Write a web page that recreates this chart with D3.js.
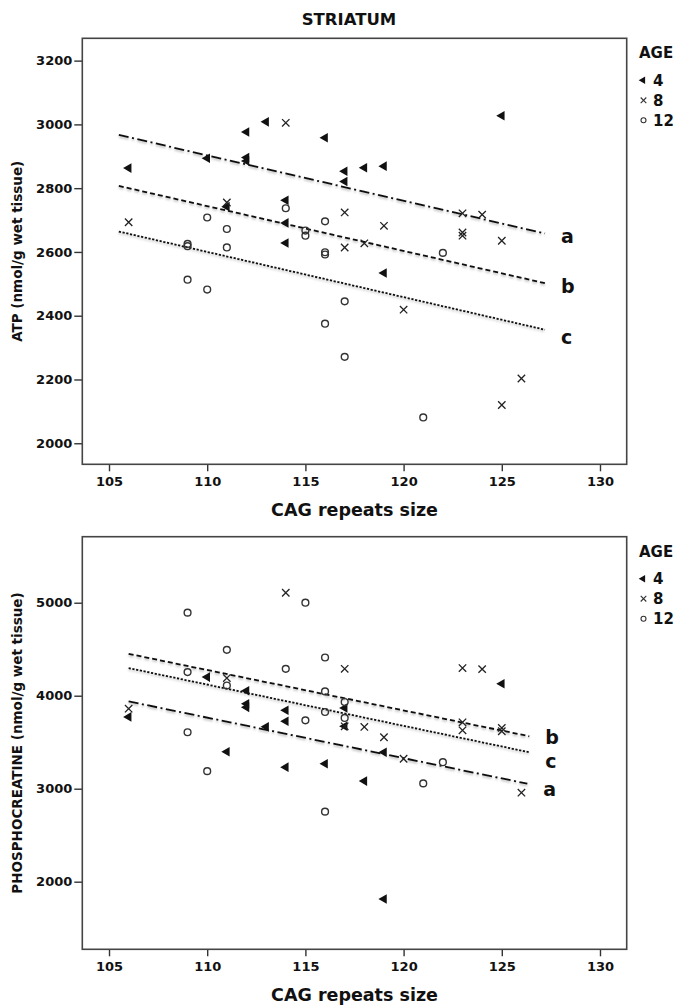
<!DOCTYPE html>
<html>
<head>
<meta charset="utf-8">
<script src="https://cdn.jsdelivr.net/npm/d3@7"></script>
<style>
  body { margin: 0; background: #fff; }
  svg { display: block; }
  text { font-family: "DejaVu Sans", sans-serif; font-weight: bold; fill: #111; }
</style>
</head>
<body>
<svg id="chart" width="679" height="1005"></svg>
<script>
// ---- data ----
var xTicks = [105, 110, 115, 120, 125, 130];
var atpTicks = [2000, 2200, 2400, 2600, 2800, 3000, 3200];
var pcrTicks = [2000, 3000, 4000, 5000];
var ages = ["4", "8", "12"];

// ATP, [CAG repeats, nmol/g]
var atpAge4 = [[106,2863],[110,2894],[111,2742],[112,2976],[112,2896],[112,2885],[113,3008],[114,2762],[114,2691],[114,2628],
  [116,2958],[117,2853],[117,2821],[118,2864],[119,2869],[119,2534],[125,3027]];
var atpAge8 = [[106,2693],[111,2755],[114,3005],[117,2724],[117,2614],[118,2627],[119,2682],[120,2419],[123,2721],[123,2661],
  [123,2651],[124,2717],[125,2635],[125,2120],[126,2203]];
var atpAge12 = [[109,2625],[109,2618],[109,2513],[110,2708],[110,2482],[111,2672],[111,2614],[114,2737],[115,2667],[115,2651],
  [116,2696],[116,2599],[116,2592],[116,2375],[117,2445],[117,2271],[121,2081],[122,2597]];

// phosphocreatine
var pcrAge4 = [[106,3772],[110,4200],[111,3397],[112,4054],[112,3914],[112,3875],[113,3665],[114,3843],[114,3725],[114,3232],
  [116,3268],[117,3868],[117,3671],[118,3082],[119,3392],[119,1814],[125,4129]];
var pcrAge8 = [[106,3861],[111,4190],[114,5107],[117,4289],[117,3671],[118,3664],[119,3553],[120,3322],[123,4297],[123,3714],
  [123,3628],[124,4286],[125,3654],[125,3618],[126,2957]];
var pcrAge12 = [[109,4893],[109,4254],[109,3607],[110,3189],[111,4493],[111,4110],[114,4289],[115,5000],[115,3735],[116,4411],
  [116,4046],[116,3825],[116,2753],[117,3932],[117,3761],[121,3057],[122,3285]];

// fit lines: [label, x0, y0, x1, y1]
var atpFits = [["a",105.5,2967,127.2,2658],["b",105.5,2807,127.2,2502],["c",105.5,2664,127.2,2356]];
var pcrFits = [["b",106,4450,126.4,3564],["c",106,4297,126.4,3392],["a",106,3939,126.3,3054]];

var dashes = { a: "10,3.5,2,3.5", b: "5,3", c: "2.2,1.6" };

var svg = d3.select("#chart");

var defs = svg.append("defs");
defs.append("filter").attr("id", "shade")
  .attr("x", "-5%").attr("y", "-50%").attr("width", "110%").attr("height", "200%")
  .append("feDropShadow")
  .attr("dx", 0).attr("dy", 1.5).attr("stdDeviation", 1.2)
  .attr("flood-color", "#000").attr("flood-opacity", 0.3);

svg.append("text")
  .attr("x", 349).attr("y", 25)
  .attr("text-anchor", "middle")
  .attr("font-size", "16.5px")
  .text("STRIATUM");

function drawPanel(opt) {
  var left = 82.3, right = 626.7;
  var x = d3.scaleLinear().domain([103.64, 131.36]).range([left, right]);
  var y = d3.scaleLinear().domain(opt.domain).range([opt.bottom, opt.top]);

  var g = svg.append("g");

  // y axis
  var ya = g.append("g")
    .attr("transform", "translate(" + left + ",0)")
    .call(d3.axisLeft(y).tickValues(opt.ticks).tickSize(8).tickPadding(2).tickFormat(d3.format("d")));
  ya.select(".domain").remove();
  ya.selectAll("line").attr("stroke", "#333").attr("stroke-width", 1.4);
  ya.selectAll("text").attr("font-family", "DejaVu Sans").attr("font-size", "13px").attr("fill", "#111");

  // x axis
  var xa = g.append("g")
    .attr("transform", "translate(0," + opt.bottom + ")")
    .call(d3.axisBottom(x).tickValues(xTicks).tickSize(7).tickPadding(5));
  xa.select(".domain").remove();
  xa.selectAll("line").attr("stroke", "#333").attr("stroke-width", 1.4);
  xa.selectAll("text").attr("font-family", "DejaVu Sans").attr("font-size", "13px").attr("fill", "#111");

  // frame
  g.append("rect")
    .attr("x", left).attr("y", opt.top)
    .attr("width", right - left).attr("height", opt.bottom - opt.top)
    .attr("fill", "none").attr("stroke", "#444").attr("stroke-width", 1.6);

  g.append("text")
    .attr("x", (left + right) / 2).attr("y", opt.bottom + 52)
    .attr("text-anchor", "middle")
    .attr("font-size", "17.5px")
    .text("CAG repeats size");

  g.append("text")
    .attr("transform", "translate(22," + ((opt.top + opt.bottom) / 2) + ") rotate(-90)")
    .attr("text-anchor", "middle")
    .attr("font-size", "13.5px")
    .text(opt.ytitle);

  // fit lines
  opt.fits.forEach(function(f) {
    g.append("line")
      .attr("x1", x(f[1])).attr("y1", y(f[2]))
      .attr("x2", x(f[3])).attr("y2", y(f[4]))
      .attr("stroke", "#111").attr("stroke-width", 1.8)
      .attr("stroke-dasharray", dashes[f[0]])
      .attr("filter", "url(#shade)");
    g.append("text")
      .attr("x", x(f[3]) + 16)
      .attr("y", y(f[4]) + opt.labelDy[f[0]])
      .attr("font-size", "19px")
      .text(f[0]);
  });

  // points
  var tri = d3.symbol().type(d3.symbolTriangle).size(40);
  g.append("g").selectAll("path")
    .data(opt.age4).enter().append("path")
    .attr("d", tri)
    .attr("transform", function(d) { return "translate(" + x(d[0]) + "," + y(d[1]) + ") rotate(-90)"; })
    .attr("fill", "#111");

  g.append("g").selectAll("path")
    .data(opt.age8).enter().append("path")
    .attr("d", "M-3.7,-3.7L3.7,3.7M-3.7,3.7L3.7,-3.7")
    .attr("transform", function(d) { return "translate(" + x(d[0]) + "," + y(d[1]) + ")"; })
    .attr("stroke", "#222").attr("stroke-width", 1.3).attr("fill", "none");

  g.append("g").selectAll("circle")
    .data(opt.age12).enter().append("circle")
    .attr("cx", function(d) { return x(d[0]); })
    .attr("cy", function(d) { return y(d[1]); })
    .attr("r", 3.4)
    .attr("fill", "none").attr("stroke", "#333").attr("stroke-width", 1.4);

  // legend
  var lg = g.append("g").attr("transform", "translate(639," + (opt.top + 20) + ")");
  lg.append("text").attr("x", 0).attr("y", 0).attr("font-size", "15px").text("AGE");
  ages.forEach(function(a, i) {
    var cy = 22 + i * 20;
    if (i === 0) {
      lg.append("path").attr("d", d3.symbol().type(d3.symbolTriangle).size(24))
        .attr("transform", "translate(4," + cy + ") rotate(-90)").attr("fill", "#111");
    } else if (i === 1) {
      lg.append("path").attr("d", "M-2.8,-2.8L2.8,2.8M-2.8,2.8L2.8,-2.8")
        .attr("transform", "translate(4.5," + cy + ")")
        .attr("stroke", "#333").attr("stroke-width", 1.1);
    } else {
      lg.append("circle").attr("cx", 4.5).attr("cy", cy).attr("r", 2.5)
        .attr("fill", "none").attr("stroke", "#333").attr("stroke-width", 1.1);
    }
    lg.append("text").attr("x", 14).attr("y", cy + 5.5).attr("font-size", "15px").text(a);
  });
}

drawPanel({
  top: 38.3, bottom: 464.3, domain: [1934, 3270], ticks: atpTicks,
  ytitle: "ATP (nmol/g wet tissue)",
  age4: atpAge4, age8: atpAge8, age12: atpAge12,
  fits: atpFits, labelDy: { a: 10, b: 10, c: 14 }
});

drawPanel({
  top: 536.7, bottom: 949.3, domain: [1273, 5710], ticks: pcrTicks,
  ytitle: "PHOSPHOCREATINE (nmol/g wet tissue)",
  age4: pcrAge4, age8: pcrAge8, age12: pcrAge12,
  fits: pcrFits, labelDy: { a: 12, b: 8, c: 16 }
});
</script>
</body>
</html>
